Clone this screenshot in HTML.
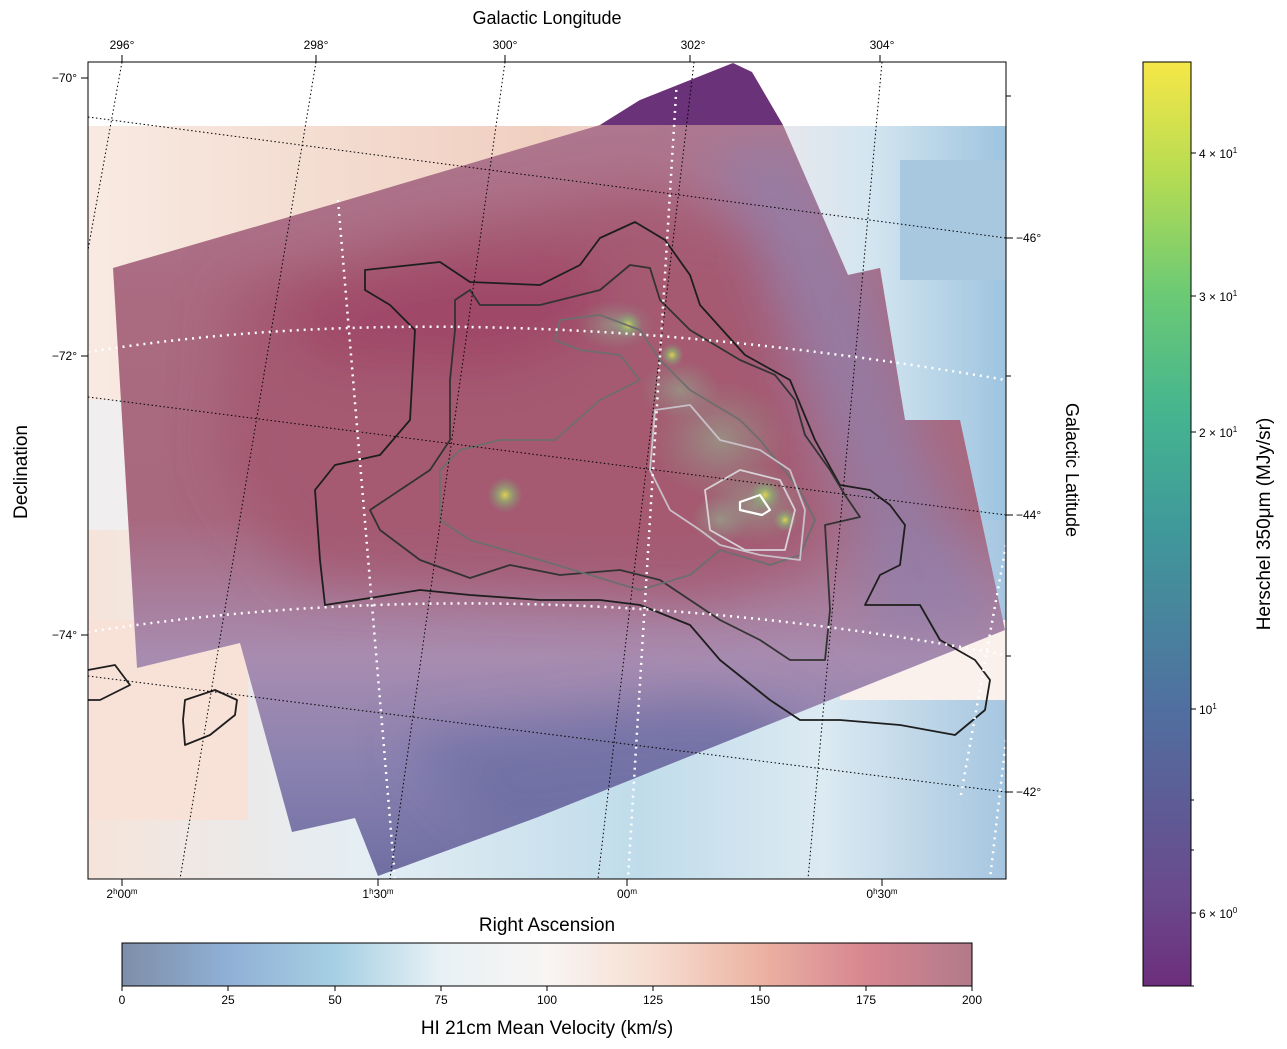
<!DOCTYPE html>
<html><head><meta charset="utf-8">
<style>
html,body{margin:0;padding:0;background:#fff;}
svg{display:block;font-family:"Liberation Sans","DejaVu Sans",sans-serif;}
</style></head>
<body>
<svg width="1287" height="1049" viewBox="0 0 1287 1049" xmlns="http://www.w3.org/2000/svg">
<defs>
<linearGradient id="hcb" x1="0" y1="0" x2="1" y2="0">
<stop offset="0" stop-color="#7e8ea8"/>
<stop offset="0.125" stop-color="#90b0d6"/>
<stop offset="0.25" stop-color="#a6cfe3"/>
<stop offset="0.375" stop-color="#e8f1f5"/>
<stop offset="0.5" stop-color="#f8f5f3"/>
<stop offset="0.625" stop-color="#f6ddd0"/>
<stop offset="0.75" stop-color="#ecb3a3"/>
<stop offset="0.875" stop-color="#d68690"/>
<stop offset="1" stop-color="#b27a8a"/>
</linearGradient>
<linearGradient id="vcb" x1="0" y1="1" x2="0" y2="0">
<stop offset="0" stop-color="#6c2e7c"/>
<stop offset="0.1" stop-color="#6a4a8c"/>
<stop offset="0.3" stop-color="#506fa0"/>
<stop offset="0.5" stop-color="#3f9a9a"/>
<stop offset="0.62" stop-color="#45b58f"/>
<stop offset="0.75" stop-color="#6cca74"/>
<stop offset="0.88" stop-color="#b7dc52"/>
<stop offset="1" stop-color="#f6e747"/>
</linearGradient>
<radialGradient id="g1"><stop offset="0" stop-color="#e8dc50" stop-opacity="0.9"/><stop offset="0.4" stop-color="#8cc070" stop-opacity="0.6"/><stop offset="1" stop-color="#80a080" stop-opacity="0"/></radialGradient>
<radialGradient id="g2"><stop offset="0" stop-color="#90b890" stop-opacity="0.55"/><stop offset="1" stop-color="#90a090" stop-opacity="0"/></radialGradient>
<linearGradient id="bgtop" x1="0" y1="0" x2="1" y2="0">
<stop offset="0" stop-color="#f8eae2"/><stop offset="0.5" stop-color="#f0cfc0"/><stop offset="0.72" stop-color="#eee8ec"/><stop offset="0.85" stop-color="#d4e6f0"/><stop offset="1" stop-color="#9ec4e0"/>
</linearGradient>
<linearGradient id="bgbot" x1="0" y1="0" x2="1" y2="0">
<stop offset="0" stop-color="#f6e4da"/><stop offset="0.3" stop-color="#e4eef4"/><stop offset="0.6" stop-color="#c0dcea"/><stop offset="0.8" stop-color="#dceaf2"/><stop offset="1" stop-color="#a6c6e0"/>
</linearGradient>
<linearGradient id="tile" x1="0" y1="0" x2="0" y2="1">
<stop offset="0" stop-color="#b07c94"/>
<stop offset="0.3" stop-color="#aa6a80"/>
<stop offset="0.55" stop-color="#a8687e"/>
<stop offset="0.72" stop-color="#a88cb0"/>
<stop offset="0.85" stop-color="#8a82b0"/>
<stop offset="1" stop-color="#6c6ca0"/>
</linearGradient>
<filter id="bl" x="-20%" y="-20%" width="140%" height="140%"><feGaussianBlur stdDeviation="25"/></filter>
<clipPath id="ax"><rect x="88" y="62" width="918" height="817"/></clipPath>
<clipPath id="tc"><polygon points="113,268 330,205 600,125 640,100 733,63 752,72 783,125 848,275 880,268 905,420 960,420 1005,630 538,817 378,876 355,818 292,832 240,643 137,668"/></clipPath>
</defs>

<g clip-path="url(#ax)">
<rect x="88" y="62" width="918" height="817" fill="#fff"/>
<rect x="88" y="126" width="918" height="753" fill="url(#bgtop)"/>
<rect x="88" y="520" width="918" height="359" fill="url(#bgbot)"/>
<rect x="88" y="400" width="70" height="130" fill="#f1eef0"/>
<rect x="88" y="620" width="160" height="200" fill="#f8e2d8"/>
<rect x="900" y="160" width="106" height="120" fill="#a8c8e0"/>
<rect x="840" y="620" width="166" height="80" fill="#faf0ec"/>
<!-- herschel tile -->
<g clip-path="url(#tc)">
<rect x="100" y="60" width="920" height="830" fill="url(#tile)"/>
<g filter="url(#bl)">
<polygon points="230,290 430,230 640,190 760,230 800,380 820,560 700,600 480,590 300,580 220,470" fill="#a4566e" opacity="0.8"/>
<polygon points="280,300 470,260 600,260 600,330 500,370 320,360" fill="#9c3e60" opacity="0.6"/>
<polygon points="700,150 800,140 880,300 920,440 1000,620 880,640 830,450 760,250" fill="#8e80ae" opacity="0.7"/>
<polygon points="400,740 700,700 800,720 780,800 500,840" fill="#6468a0" opacity="0.6"/>
</g>
<polygon points="560,140 640,100 733,63 752,72 783,125 590,125" fill="#6a3278"/>
</g>
<!-- herschel emission -->
<ellipse cx="615" cy="325" rx="40" ry="25" fill="url(#g2)"/>
<circle cx="628" cy="325" r="14" fill="url(#g1)"/>
<circle cx="672" cy="355" r="12" fill="url(#g1)"/>
<ellipse cx="720" cy="440" rx="70" ry="60" fill="url(#g2)"/>
<ellipse cx="755" cy="505" rx="55" ry="40" fill="url(#g2)"/>
<circle cx="765" cy="495" r="16" fill="url(#g1)"/>
<circle cx="785" cy="520" r="12" fill="url(#g1)"/>
<circle cx="505" cy="495" r="18" fill="url(#g1)"/>
<ellipse cx="680" cy="390" rx="40" ry="30" fill="url(#g2)"/>
<ellipse cx="720" cy="520" rx="30" ry="25" fill="url(#g2)"/>

<!-- contours -->
<g fill="none" stroke-width="1.8" stroke-linejoin="round">
<path d="M365,270 L440,262 470,282 540,285 580,265 600,238 635,222 665,240 690,275 700,305 745,355 790,380 815,440 840,485 870,490 890,505 905,525 900,565 880,575 865,605 920,605 940,640 975,660 990,680 985,710 955,735 900,725 840,720 800,720 770,700 720,660 690,625 640,605 600,600 540,600 470,595 420,590 370,598 325,605 320,560 315,490 335,465 380,455 410,420 415,330 390,305 365,290Z" stroke="#1e1e1e"/>
<path d="M455,300 L470,290 480,305 540,305 600,290 630,265 650,268 660,300 690,330 715,345 740,360 775,375 795,400 805,435 830,470 845,495 860,517 825,525 830,610 825,660 790,660 760,640 720,620 690,600 660,580 620,570 560,575 510,565 470,578 420,560 380,530 370,510 400,490 430,470 450,440 450,380 455,330Z" stroke="#333"/>
<path d="M560,320 L600,315 640,330 660,360 690,390 740,420 760,440 780,465 800,490 815,520 800,555 770,565 720,550 690,575 640,590 590,575 540,560 470,540 440,520 440,470 460,450 500,440 555,440 600,400 640,380 620,355 580,350 555,340Z" stroke="#6e6e6e"/>
<path d="M655,410 L690,405 720,440 760,450 790,470 805,510 800,560 760,555 720,545 700,530 670,510 650,470Z" stroke="#c8c0c8"/>
<path d="M705,490 L740,470 780,480 795,510 785,550 745,550 710,530Z" stroke="#d8d2d8"/>
<path d="M740,502 L760,495 770,510 762,515 740,510Z" stroke="#fff" stroke-width="2.2"/>
<path d="M88,670 L115,665 130,685 100,700 88,700" stroke="#1e1e1e"/>
<path d="M185,700 L215,690 237,700 235,715 210,735 185,745 183,720Z" stroke="#1e1e1e"/>
</g>

<!-- grids -->
<g stroke="#000" stroke-width="1" stroke-dasharray="1.5,2.5" fill="none">
<line x1="122" y1="62" x2="88" y2="250"/>
<line x1="316" y1="62" x2="180" y2="879"/>
<line x1="505" y1="62" x2="390" y2="879"/>
<line x1="694" y1="62" x2="598" y2="879"/>
<line x1="882" y1="62" x2="808" y2="879"/>
<line x1="88" y1="117" x2="1006" y2="238"/>
<line x1="88" y1="397" x2="1006" y2="515"/>
<line x1="88" y1="676" x2="1006" y2="792"/>
</g>
<g stroke="#fff" stroke-width="2.5" stroke-dasharray="2,5" fill="none">
<path d="M88,352 Q480,290 1006,380"/>
<path d="M88,632 Q520,565 1006,655"/>
<line x1="338" y1="200" x2="395" y2="879"/>
<line x1="678" y1="62" x2="628" y2="879"/>
<line x1="1006" y1="740" x2="990" y2="879"/>
<line x1="1006" y1="545" x2="960" y2="800"/>
</g>
</g>
<rect x="88" y="62" width="918" height="817" fill="none" stroke="#000" stroke-width="1"/>

<!-- ticks -->
<g stroke="#000" stroke-width="1">
<line x1="122" y1="62" x2="122" y2="55"/><line x1="316" y1="62" x2="316" y2="55"/><line x1="505" y1="62" x2="505" y2="55"/><line x1="690" y1="62" x2="690" y2="55"/><line x1="880" y1="62" x2="880" y2="55"/>
<line x1="88" y1="78" x2="81" y2="78"/><line x1="88" y1="356" x2="81" y2="356"/><line x1="88" y1="635" x2="81" y2="635"/>
<line x1="1006" y1="238" x2="1013" y2="238"/><line x1="1006" y1="515" x2="1013" y2="515"/><line x1="1006" y1="792" x2="1013" y2="792"/>
<line x1="1006" y1="96" x2="1011" y2="96"/><line x1="1006" y1="376" x2="1011" y2="376"/><line x1="1006" y1="656" x2="1011" y2="656"/>
<line x1="122" y1="879" x2="122" y2="886"/><line x1="378" y1="879" x2="378" y2="886"/><line x1="627" y1="879" x2="627" y2="886"/><line x1="882" y1="879" x2="882" y2="886"/>
</g>
<g font-size="12" fill="#000">
<text x="122" y="49" text-anchor="middle">296°</text>
<text x="316" y="49" text-anchor="middle">298°</text>
<text x="505" y="49" text-anchor="middle">300°</text>
<text x="693" y="49" text-anchor="middle">302°</text>
<text x="882" y="49" text-anchor="middle">304°</text>
<text x="77" y="82" text-anchor="end">−70°</text>
<text x="77" y="360" text-anchor="end">−72°</text>
<text x="77" y="639" text-anchor="end">−74°</text>
<text x="1016" y="242">−46°</text>
<text x="1016" y="519">−44°</text>
<text x="1016" y="796">−42°</text>
<text x="122" y="898" text-anchor="middle">2<tspan font-size="8" dy="-4">h</tspan><tspan dy="4">00</tspan><tspan font-size="8" dy="-4">m</tspan></text>
<text x="378" y="898" text-anchor="middle">1<tspan font-size="8" dy="-4">h</tspan><tspan dy="4">30</tspan><tspan font-size="8" dy="-4">m</tspan></text>
<text x="627" y="898" text-anchor="middle">00<tspan font-size="8" dy="-4">m</tspan></text>
<text x="882" y="898" text-anchor="middle">0<tspan font-size="8" dy="-4">h</tspan><tspan dy="4">30</tspan><tspan font-size="8" dy="-4">m</tspan></text>
</g>
<g font-size="18" fill="#000">
<text x="547" y="24" text-anchor="middle">Galactic Longitude</text>
<text x="547" y="931" text-anchor="middle" font-size="19">Right Ascension</text>
<text transform="translate(27,472) rotate(-90)" text-anchor="middle" font-size="19">Declination</text>
<text transform="translate(1066,470) rotate(90)" text-anchor="middle">Galactic Latitude</text>
</g>

<!-- horizontal colorbar -->
<rect x="122" y="943" width="850" height="43" fill="url(#hcb)" stroke="#000" stroke-width="1"/>
<g stroke="#000"><line x1="122" y1="986" x2="122" y2="991"/><line x1="228" y1="986" x2="228" y2="991"/><line x1="335" y1="986" x2="335" y2="991"/><line x1="441" y1="986" x2="441" y2="991"/><line x1="547" y1="986" x2="547" y2="991"/><line x1="653" y1="986" x2="653" y2="991"/><line x1="760" y1="986" x2="760" y2="991"/><line x1="866" y1="986" x2="866" y2="991"/><line x1="972" y1="986" x2="972" y2="991"/></g>
<g font-size="12" text-anchor="middle">
<text x="122" y="1004">0</text><text x="228" y="1004">25</text><text x="335" y="1004">50</text><text x="441" y="1004">75</text><text x="547" y="1004">100</text><text x="653" y="1004">125</text><text x="760" y="1004">150</text><text x="866" y="1004">175</text><text x="972" y="1004">200</text>
</g>
<text x="547" y="1034" text-anchor="middle" font-size="19">HI 21cm Mean Velocity (km/s)</text>

<!-- vertical colorbar -->
<rect x="1143" y="62" width="48" height="924" fill="url(#vcb)" stroke="#000" stroke-width="1"/>
<g stroke="#000">
<line x1="1191" y1="153" x2="1196" y2="153"/><line x1="1191" y1="296" x2="1196" y2="296"/><line x1="1191" y1="432" x2="1196" y2="432"/><line x1="1191" y1="709" x2="1196" y2="709"/><line x1="1191" y1="913" x2="1196" y2="913"/>
<line x1="1191" y1="800" x2="1194" y2="800"/><line x1="1191" y1="850" x2="1194" y2="850"/><line x1="1191" y1="986" x2="1194" y2="986"/>
</g>
<g font-size="12">
<text x="1199" y="158">4 × 10<tspan font-size="8" dy="-5">1</tspan></text>
<text x="1199" y="301">3 × 10<tspan font-size="8" dy="-5">1</tspan></text>
<text x="1199" y="437">2 × 10<tspan font-size="8" dy="-5">1</tspan></text>
<text x="1199" y="714">10<tspan font-size="8" dy="-5">1</tspan></text>
<text x="1199" y="918">6 × 10<tspan font-size="8" dy="-5">0</tspan></text>
</g>
<text transform="translate(1270,524) rotate(-90)" text-anchor="middle" font-size="19">Herschel 350μm (MJy/sr)</text>
</svg>
</body></html>
